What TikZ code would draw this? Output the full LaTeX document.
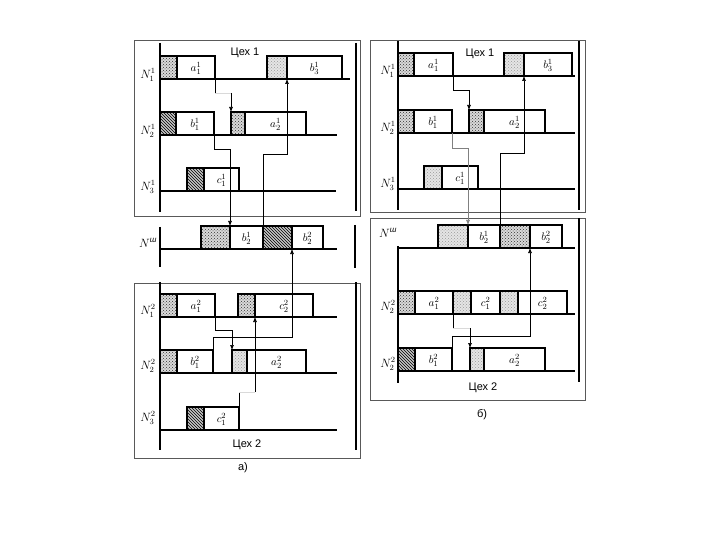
\documentclass[tikz,border=0pt]{standalone}
\usepackage{amsmath}
\usepackage{fontspec}
\setmainfont{Liberation Sans}
\usetikzlibrary{arrows.meta,patterns}

% one job on a machine row: name, base y, x start, x end of setup, x end, setup fill, label
\newcommand{\job}[7]{%
  \fill[#6] (#3,#2) rectangle (#4,#2-23);
  \draw[bar] (#3,#2) rectangle (#5,#2-23) (#4,#2) -- (#4,#2-23);
  \node[oplbl] (#1) at ({(#4+#5)/2},#2-11) {$#7$};
  \coordinate (#1-ul) at (#3,#2-23);
  \coordinate (#1-st) at (#4,#2-23);
  \coordinate (#1-sb) at (#4,#2);
  \coordinate (#1-ur) at (#5,#2-23);
  \coordinate (#1-lr) at (#5,#2);
}

\begin{document}
\begin{tikzpicture}[x=1pt,y=-1pt,
    bar/.style={line width=1.5pt},
    post/.style={line width=2.4pt},
    frame/.style={line width=0.7pt,gray!70!black},
    link/.style={line width=0.6pt},
    faint/.style={line width=0.5pt,gray!30},
    tip/.style={-{Latex[length=5pt,width=4pt]}},
    dots/.style={preaction={fill=gray!30},pattern=crosshatch dots,pattern color=black!80},
    pale/.style={preaction={fill=gray!20},pattern=crosshatch dots,pattern color=gray!80},
    hatch/.style={preaction={fill=gray!45},pattern=north west lines},
    oplbl/.style={font=\fontsize{11}{13}\selectfont,inner sep=0pt},
    rowlbl/.style={font=\fontsize{12}{14}\selectfont,inner sep=0pt},
    title/.style={font=\fontsize{11}{13}\selectfont,inner sep=0pt}]
  \useasboundingbox (0,0) rectangle (720,540);

  % --- a) ---
  \draw[frame] (134,40) rectangle (360,216);
  \draw[frame] (134,283) rectangle (360,458);
  \draw[post] (160,43) -- (160,212) (356,43) -- (356,211);
  \draw[post] (160,227) -- (160,267) (355,225) -- (355,268);
  \draw[post] (160,282) -- (160,450) (356,282) -- (356,450);
  \foreach \y/\e in {79/350,135/337,191/336,249/337,317/337,373/337,430/337}
    \draw[bar] (160,\y) -- (\e,\y);
  \foreach \n/\y/\t in {La1/75/N_1^1,La2/131/N_2^1,La3/187/N_3^1,
                        Lsh/243/N^{\textit{ш}},
                        Lb1/311/N_1^2,Lb2/366/N_2^2,Lb3/418/N_3^2}
    \node[rowlbl] (\n) at (148,\y) {$\t$};
  \node[title] (Lt1) at (245,53) {Цех 1};
  \node[title] (Lt2) at (247,445) {Цех 2};
  \node[title] (Lcap) at (243,468) {а)};

  \job{La11}{79}{160}{177}{215}{dots}{a_1^1}
  \job{Lb31}{79}{267}{287}{342}{pale}{b_3^1}
  \job{Lb11}{135}{160}{176}{214}{hatch}{b_1^1}
  \job{La21}{135}{231}{245}{306}{dots}{a_2^1}
  \job{Lc11}{191}{187}{204}{239}{hatch}{c_1^1}
  \job{Lb21}{249}{201}{230}{263}{dots}{b_2^1}
  \job{Lb22}{249}{263}{292}{323}{hatch}{b_2^2}
  \job{La12}{317}{160}{177}{215}{dots}{a_1^2}
  \job{Lc22}{317}{238}{255}{313}{dots}{c_2^2}
  \job{Lb12}{373}{160}{177}{213}{dots}{b_1^2}
  \job{La22}{373}{232}{247}{306}{pale}{a_2^2}
  \job{Lc12}{430}{187}{204}{239}{hatch}{c_1^2}

  \draw[link] (La11-lr) -- ++(0,14) coordinate (La11-d);
  \draw[faint] (La11-d) -- (La11-d -| La21-ul);
  \draw[link,tip] (La11-d -| La21-ul) -- (La21-ul);
  \draw[link,tip] (Lb11-lr) -- ++(0,14) -| (Lb21-st);
  \draw[link,tip] (Lb22-ul) -- ++(0,-72) -| (Lb31-sb);
  \draw[link,tip] (La12-lr) -- ++(0,13) -| (La22-ul);
  \draw[link,tip] (Lb12-ur) -- ++(0,-13) -| (Lb22-sb);
  \draw[link] (Lc12-ur) -- ++(0,-15) coordinate (Lc12-u);
  \draw[faint] (Lc12-u) -- (Lc12-u -| Lc22-sb);
  \draw[link,tip] (Lc12-u -| Lc22-sb) -- (Lc22-sb);

  % --- б) ---
  \draw[frame] (370,40) rectangle (585,212);
  \draw[frame] (370,218) rectangle (585,400);
  \draw[post] (398,41) -- (398,210) (579,41) -- (579,210);
  \draw[post] (398,246) -- (398,383) (579,218) -- (579,382);
  \foreach \y in {76,133,189,248,314,371}
    \draw[bar] (398,\y) -- (575,\y);
  \foreach \n/\y/\t in {Ra1/71/N_1^1,Ra2/128/N_2^1,Ra3/184/N_3^1,
                        Rsh/233/N^{\textit{ш}},
                        Rb1/307/N_2^2,Rb2/364/N_2^2}
    \node[rowlbl] (\n) at (388,\y) {$\t$};
  \node[title] (Rt1) at (480,54) {Цех 1};
  \node[title] (Rt2) at (483,388) {Цех 2};
  \node[title] (Rcap) at (482,415) {б)};

  \job{Ra11}{76}{398}{414}{453}{dots}{a_1^1}
  \job{Rb31}{76}{504}{524}{572}{pale}{b_3^1}
  \job{Rb11}{133}{398}{414}{452}{dots}{b_1^1}
  \job{Ra21}{133}{469}{484}{545}{dots}{a_2^1}
  \job{Rc11}{189}{424}{442}{478}{pale}{c_1^1}
  \job{Rb21}{248}{438}{468}{500}{pale}{b_2^1}
  \job{Rb22}{248}{500}{530}{562}{dots}{b_2^2}
  \job{Ra12}{314}{398}{415}{453}{dots}{a_1^2}
  \job{Rc12}{314}{453}{471}{500}{pale}{c_1^2}
  \job{Rc22}{314}{500}{518}{567}{pale}{c_2^2}
  \job{Rb12}{371}{398}{415}{452}{hatch}{b_1^2}
  \job{Ra22}{371}{470}{484}{545}{pale}{a_2^2}

  \draw[link,tip] (Ra11-lr) -- ++(0,14) -| (Ra21-ul);
  \draw[link,tip,gray] (Rb11-lr) -- ++(0,15) -| (Rb21-st);
  \draw[link,tip] (Rb22-ul) -- ++(0,-72) -| (Rb31-sb);
  \draw[link] (Ra12-lr) -- ++(0,14) coordinate (Ra12-d);
  \draw[faint] (Ra12-d) -- (Ra12-d -| Ra22-ul);
  \draw[link,tip] (Ra12-d -| Ra22-ul) -- (Ra22-ul);
  \draw[link,tip] (Rb12-ur) -- ++(0,-12) -| (Rb22-sb);
\end{tikzpicture}
\end{document}
